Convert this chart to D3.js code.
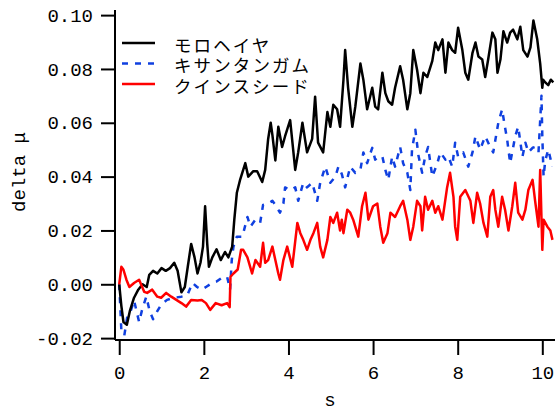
<!DOCTYPE html>
<html><head><meta charset="utf-8">
<script src="https://cdn.jsdelivr.net/npm/d3@7"></script>
<style>html,body{margin:0;padding:0;background:#fff;}svg{display:block;}</style>
</head><body>
<script>
const seriesNames = ["モロヘイヤ", "キサンタンガム", "クインスシード"];
const seriesColors = ["#000000", "#1040e0", "#ff0000"];
const xTicks = [0, 2, 4, 6, 8, 10];
const yTicks = [-0.02, 0.00, 0.02, 0.04, 0.06, 0.08, 0.10];

const blackT = [0,0.05,0.10,0.18,0.25,0.35,0.45,0.55,0.65,0.71,0.80,0.90,1.00,1.10,1.20,1.30,1.38,1.47,1.55,1.62,1.70,1.78,1.85,1.92,1.98,2.03,2.08,2.12,2.20,2.30,2.40,2.50,2.58,2.67,2.72,2.78,2.86,2.98,3.05,3.17,3.26,3.38,3.45,3.52,3.58,3.62,3.69,3.76,3.85,3.92,4.04,4.16,4.23,4.33,4.44,4.56,4.63,4.70,4.82,4.92,4.99,5.06,5.15,5.22,5.30,5.34,5.41,5.51,5.58,5.70,5.77,5.86,5.98,6.05,6.12,6.22,6.29,6.36,6.45,6.52,6.64,6.71,6.81,6.88,6.95,7.04,7.12,7.19,7.28,7.40,7.47,7.54,7.64,7.71,7.78,7.87,7.94,8.01,8.11,8.18,8.25,8.35,8.42,8.49,8.58,8.65,8.72,8.82,8.89,8.94,9.01,9.08,9.17,9.24,9.31,9.41,9.48,9.55,9.65,9.72,9.79,9.88,9.95,10.00,10.02,10.07,10.14,10.20,10.26];
const blackV = [0.000,-0.008,-0.014,-0.015,-0.010,-0.005,-0.002,0.000,-0.001,0.0035,0.005,0.004,0.006,0.005,0.006,0.008,0.005,-0.003,-0.001,0.0065,0.015,0.010,0.004,0.008,0.014,0.029,0.015,0.0065,0.010,0.013,0.009,0.012,0.010,0.014,0.024,0.034,0.039,0.045,0.040,0.042,0.042,0.038,0.0425,0.054,0.060,0.0555,0.046,0.0585,0.051,0.055,0.061,0.0425,0.049,0.060,0.049,0.054,0.0697,0.0526,0.049,0.064,0.0585,0.0667,0.065,0.0585,0.076,0.087,0.073,0.0585,0.066,0.082,0.076,0.065,0.073,0.066,0.065,0.0786,0.071,0.068,0.0667,0.073,0.081,0.076,0.065,0.071,0.087,0.0797,0.071,0.0786,0.077,0.083,0.0898,0.087,0.091,0.0786,0.0898,0.087,0.086,0.0953,0.087,0.0786,0.076,0.086,0.0898,0.0846,0.0835,0.077,0.0835,0.0935,0.091,0.0786,0.0835,0.094,0.0898,0.0935,0.0946,0.091,0.0957,0.087,0.0846,0.088,0.098,0.091,0.082,0.073,0.076,0.075,0.074,0.076,0.075];

const blueT = [0,0.05,0.12,0.19,0.27,0.35,0.41,0.47,0.54,0.64,0.72,0.80,0.90,0.99,1.13,1.30,1.47,1.61,1.73,1.84,1.95,2.05,2.20,2.30,2.42,2.55,2.62,2.66,2.70,2.78,2.91,3.03,3.10,3.22,3.33,3.40,3.52,3.62,3.69,3.80,3.88,3.92,4.04,4.16,4.23,4.35,4.44,4.56,4.68,4.75,4.87,4.99,5.11,5.18,5.26,5.34,5.46,5.58,5.70,5.77,5.86,5.98,6.05,6.12,6.22,6.29,6.36,6.45,6.52,6.64,6.71,6.81,6.88,6.92,7.00,7.07,7.16,7.23,7.30,7.40,7.52,7.59,7.71,7.78,7.87,7.94,8.01,8.13,8.25,8.35,8.42,8.53,8.65,8.77,8.84,8.96,9.05,9.10,9.17,9.24,9.36,9.43,9.53,9.60,9.67,9.77,9.83,9.91,9.95,9.98,10.00,10.03,10.07,10.14,10.24];
const blueV = [0.000,-0.017,-0.019,-0.012,-0.010,-0.006,-0.010,-0.014,-0.0095,-0.0046,-0.010,-0.013,-0.010,-0.0076,-0.0058,-0.005,-0.0046,-0.004,0.0005,-0.001,-0.002,-0.001,0.0005,0.001,0.0024,0.0028,-0.002,0.009,0.014,0.0177,0.0177,0.025,0.0214,0.024,0.0228,0.0295,0.030,0.031,0.0295,0.0266,0.030,0.036,0.035,0.036,0.031,0.0377,0.036,0.0377,0.031,0.0377,0.0437,0.0377,0.040,0.0437,0.041,0.036,0.0437,0.0414,0.0425,0.049,0.045,0.0507,0.0463,0.0474,0.0474,0.0425,0.0388,0.0474,0.0437,0.051,0.045,0.0414,0.035,0.050,0.0574,0.048,0.0414,0.0474,0.051,0.040,0.045,0.049,0.0463,0.0474,0.0437,0.0526,0.0474,0.049,0.0437,0.049,0.055,0.050,0.055,0.051,0.049,0.060,0.065,0.060,0.0537,0.045,0.055,0.0585,0.0474,0.0526,0.049,0.0507,0.051,0.049,0.061,0.070,0.055,0.040,0.046,0.050,0.0437];

const redT = [0,0.05,0.10,0.17,0.24,0.35,0.47,0.59,0.66,0.78,0.90,0.99,1.11,1.23,1.35,1.47,1.58,1.70,1.85,1.95,2.05,2.15,2.28,2.42,2.55,2.61,2.63,2.70,2.80,2.88,2.93,3.03,3.14,3.22,3.33,3.40,3.45,3.52,3.62,3.69,3.76,3.80,3.88,3.97,4.09,4.21,4.28,4.35,4.44,4.52,4.59,4.68,4.75,4.82,4.92,4.99,5.06,5.15,5.22,5.26,5.30,5.39,5.46,5.53,5.65,5.74,5.82,5.89,6.00,6.10,6.17,6.24,6.34,6.41,6.52,6.64,6.71,6.81,6.88,6.95,7.04,7.12,7.16,7.23,7.30,7.40,7.47,7.54,7.64,7.75,7.82,7.90,7.94,7.99,8.06,8.18,8.30,8.37,8.46,8.53,8.61,8.70,8.77,8.84,8.89,8.96,9.05,9.12,9.20,9.29,9.36,9.43,9.53,9.60,9.67,9.77,9.83,9.91,9.95,10.00,10.03,10.12,10.19,10.24];
const redV = [0.000,0.0065,0.0054,0.0017,-0.001,0.0005,0.0017,-0.0028,-0.0032,-0.002,-0.0046,-0.005,-0.0032,-0.0046,-0.0058,-0.007,-0.0083,-0.0058,-0.006,-0.0058,-0.007,-0.0095,-0.007,-0.0078,-0.007,-0.0085,0.0028,0.004,0.0055,0.0128,0.0128,0.010,0.004,0.009,0.0065,0.0154,0.008,0.009,0.014,0.009,0.004,0.0017,0.009,0.014,0.0065,0.0228,0.019,0.0165,0.0128,0.0165,0.019,0.0228,0.014,0.010,0.0165,0.025,0.0228,0.0266,0.020,0.024,0.019,0.0277,0.0266,0.024,0.0177,0.029,0.034,0.024,0.029,0.030,0.0214,0.0154,0.019,0.0266,0.025,0.029,0.031,0.024,0.0165,0.0214,0.031,0.029,0.020,0.0325,0.0277,0.031,0.0266,0.029,0.024,0.036,0.0414,0.0325,0.0214,0.0165,0.0325,0.035,0.031,0.0228,0.034,0.030,0.0228,0.0177,0.0325,0.035,0.0277,0.0214,0.0325,0.0277,0.020,0.029,0.0377,0.0266,0.024,0.0277,0.035,0.0388,0.031,0.0214,0.0425,0.0128,0.024,0.0214,0.020,0.0165];

const W = 555, H = 411;
const svg = d3.select("body").append("svg").attr("width", W).attr("height", H);

const x = d3.scaleLinear().domain([-0.1, 10.3]).range([115, 555]);
const y = d3.scaleLinear().domain([-0.0207, 0.1019]).range([340, 10]);

const monoFont = "'Liberation Mono', 'DejaVu Sans Mono', monospace";

const series = [
  {t: blackT, v: blackV, color: seriesColors[0], dash: null},
  {t: blueT, v: blueV, color: seriesColors[1], dash: "6,7"},
  {t: redT, v: redV, color: seriesColors[2], dash: null}
];
const line = d3.line().x(d => x(d[0])).y(d => y(d[1]));
[1, 0, 2].forEach(i => {
  const s = series[i];
  const pts = s.t.map((t, j) => [t, s.v[j]]);
  svg.append("path").datum(pts)
    .attr("d", line)
    .attr("fill", "none")
    .attr("stroke", s.color)
    .attr("stroke-width", 2.5)
    .attr("stroke-dasharray", s.dash)
    .attr("stroke-linejoin", "round");
});

// axes
const yAxis = d3.axisLeft(y).tickValues(yTicks).tickSize(14).tickPadding(8)
  .tickFormat(d3.format(".2f"));
const gy = svg.append("g").attr("transform", "translate(115,0)").call(yAxis);
gy.select(".domain").attr("stroke-width", 2).attr("d", "M0,10V340");
gy.selectAll(".tick line").attr("stroke-width", 2);
gy.selectAll("text").attr("font-family", monoFont).attr("font-size", 19).attr("fill", "#000")
  .text(d => d3.format(".2f")(d).replace("−", "-"));

const xAxis = d3.axisBottom(x).tickValues(xTicks).tickSize(15).tickPadding(11)
  .tickFormat(d3.format("d"));
const gx = svg.append("g").attr("transform", "translate(0,340)").call(xAxis);
gx.select(".domain").attr("stroke-width", 2).attr("d", "M115,0H555");
gx.selectAll(".tick line").attr("stroke-width", 2);
gx.selectAll("text").attr("font-family", monoFont).attr("font-size", 19).attr("fill", "#000");

// axis labels
svg.append("text").attr("x", 330).attr("y", 401).attr("text-anchor", "middle")
  .attr("dominant-baseline", "central")
  .attr("font-family", monoFont).attr("font-size", 19).text("s");
svg.append("text").attr("transform", "translate(20,172) rotate(-90)")
  .attr("text-anchor", "middle").attr("dominant-baseline", "central")
  .attr("font-family", monoFont).attr("font-size", 19).text("delta μ");

// legend
const legY = [43, 63.5, 84];
seriesNames.forEach((name, i) => {
  svg.append("line").attr("x1", 122).attr("x2", 155).attr("y1", legY[i]).attr("y2", legY[i])
    .attr("stroke", seriesColors[i]).attr("stroke-width", 2.5)
    .attr("stroke-dasharray", series[i].dash);
  svg.append("text").attr("x", 174).attr("y", legY[i] + 1)
    .attr("dominant-baseline", "central")
    .attr("font-family", "'Noto Sans CJK JP', sans-serif").attr("font-size", 17.5)
    .attr("letter-spacing", 2.1)
    .attr("fill", "#000").text(name);
});
</script>
</body></html>
